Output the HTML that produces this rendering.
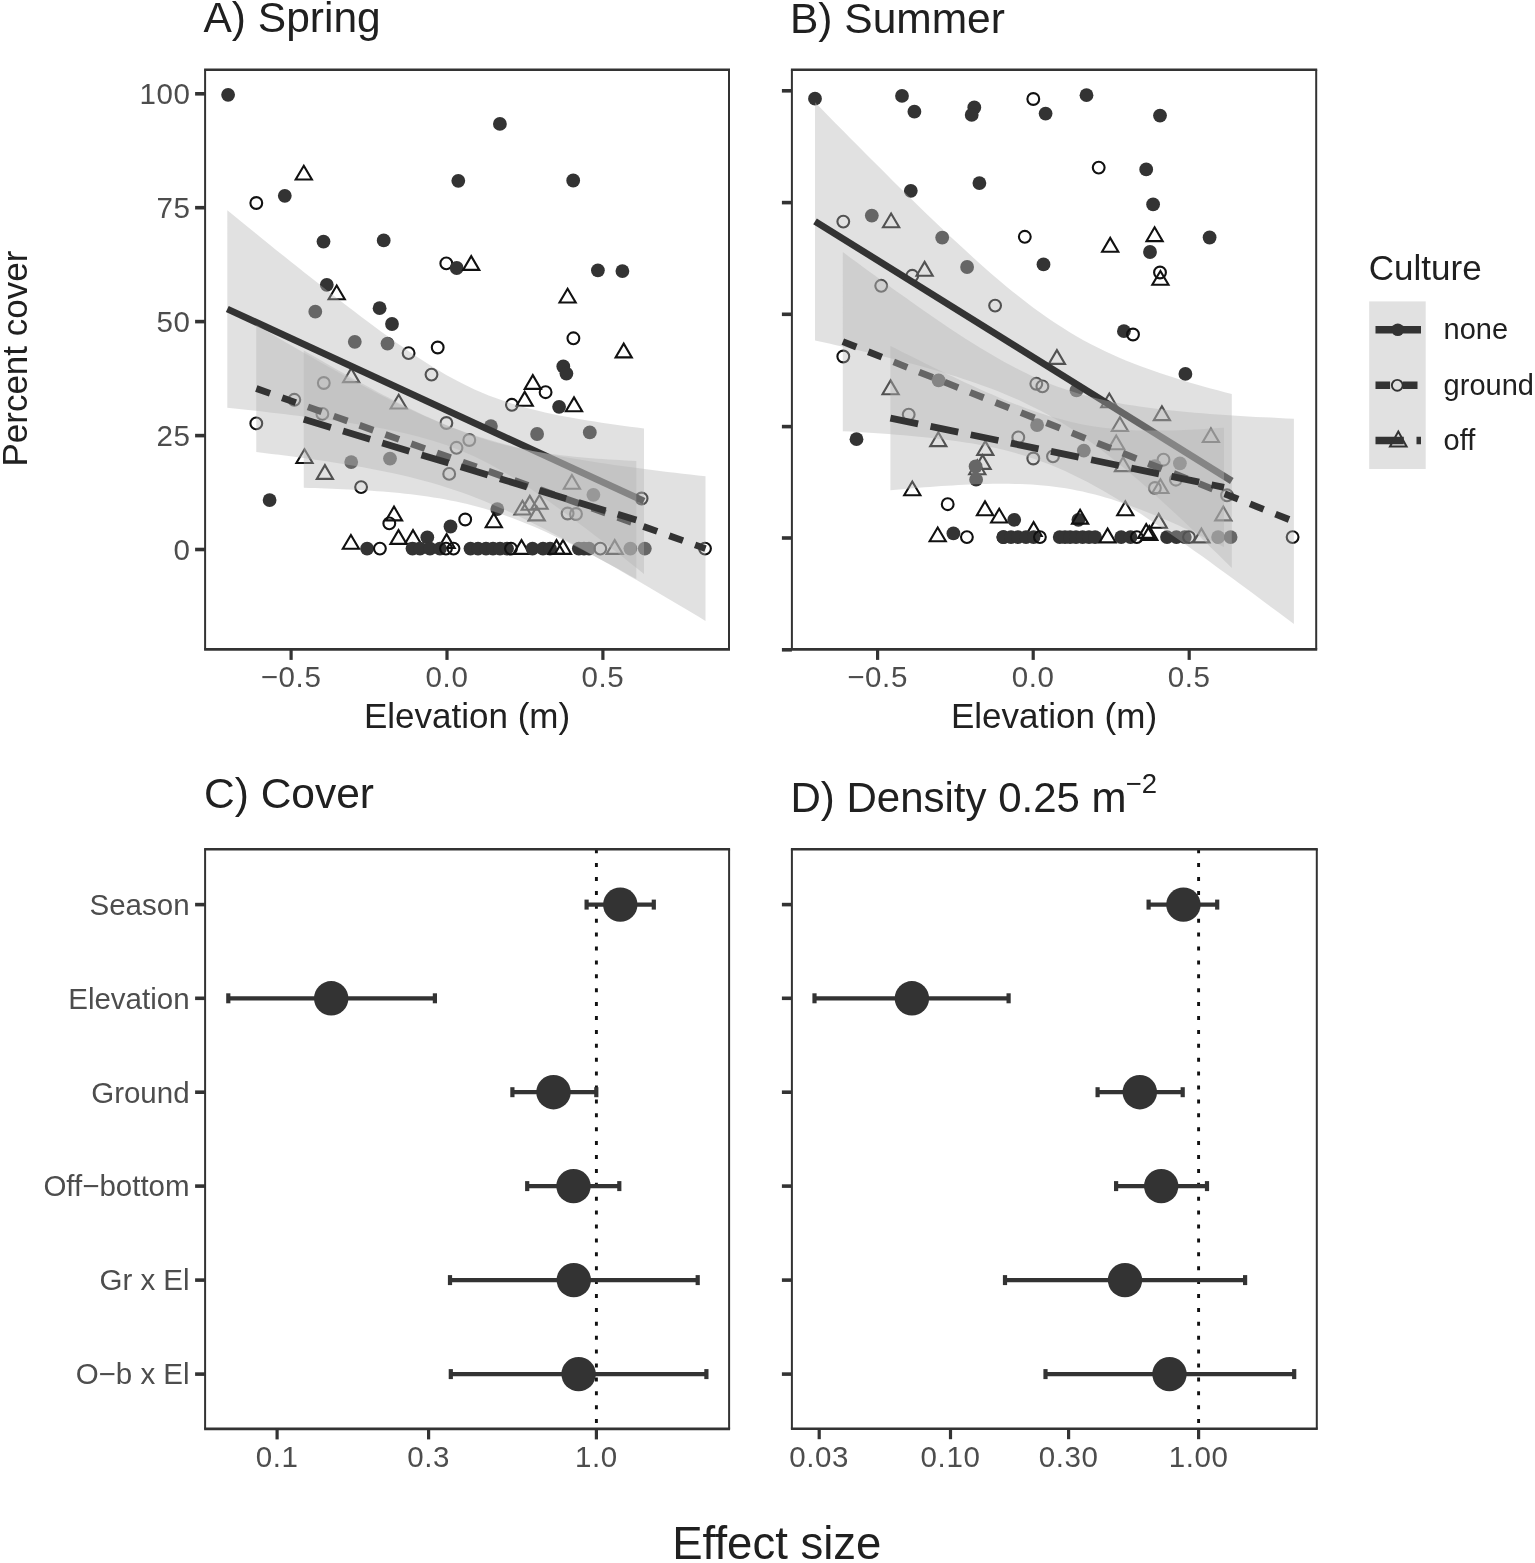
<!DOCTYPE html><html><head><meta charset="utf-8"><title>Figure</title><style>html,body{margin:0;padding:0;background:#fff;width:1535px;height:1563px;overflow:hidden}svg{display:block}</style></head><body><svg width="1535" height="1563" viewBox="0 0 1535 1563" style="font-family:'Liberation Sans',Arial,Helvetica,sans-serif">
<rect width="1535" height="1563" fill="#ffffff"/>
<clipPath id="clipA"><rect x="205.1" y="69.8" width="523.9" height="579.6"/></clipPath>
<g clip-path="url(#clipA)">
<circle cx="228.1" cy="94.8" r="6.9" fill="#333333"/>
<path d="M303.8,165.7 L311.9,179.5 L295.7,179.5Z" fill="none" stroke="#111" stroke-width="2.1" stroke-linejoin="miter"/>
<circle cx="256.3" cy="203.0" r="5.9" fill="none" stroke="#111" stroke-width="2.1"/>
<circle cx="284.8" cy="195.8" r="6.9" fill="#333333"/>
<circle cx="499.9" cy="123.9" r="6.9" fill="#333333"/>
<circle cx="458.3" cy="180.8" r="6.9" fill="#333333"/>
<circle cx="573.2" cy="180.5" r="6.9" fill="#333333"/>
<circle cx="323.5" cy="241.6" r="6.9" fill="#333333"/>
<circle cx="383.7" cy="240.4" r="6.9" fill="#333333"/>
<circle cx="446.3" cy="263.4" r="5.9" fill="none" stroke="#111" stroke-width="2.1"/>
<circle cx="456.7" cy="268.0" r="6.9" fill="#333333"/>
<path d="M471.2,256.1 L479.3,269.9 L463.1,269.9Z" fill="none" stroke="#111" stroke-width="2.1" stroke-linejoin="miter"/>
<circle cx="597.9" cy="270.3" r="6.9" fill="#333333"/>
<circle cx="622.4" cy="271.1" r="6.9" fill="#333333"/>
<circle cx="326.8" cy="284.8" r="6.9" fill="#333333"/>
<path d="M336.7,285.5 L344.8,299.3 L328.6,299.3Z" fill="none" stroke="#111" stroke-width="2.1" stroke-linejoin="miter"/>
<path d="M567.6,288.7 L575.7,302.5 L559.5,302.5Z" fill="none" stroke="#111" stroke-width="2.1" stroke-linejoin="miter"/>
<circle cx="315.3" cy="311.7" r="6.9" fill="#333333"/>
<circle cx="379.6" cy="308.2" r="6.9" fill="#333333"/>
<circle cx="392.0" cy="324.0" r="6.9" fill="#333333"/>
<circle cx="573.4" cy="338.3" r="5.9" fill="none" stroke="#111" stroke-width="2.1"/>
<path d="M623.7,343.6 L631.8,357.4 L615.6,357.4Z" fill="none" stroke="#111" stroke-width="2.1" stroke-linejoin="miter"/>
<circle cx="354.8" cy="341.8" r="6.9" fill="#333333"/>
<circle cx="387.5" cy="343.6" r="6.9" fill="#333333"/>
<circle cx="408.6" cy="353.1" r="5.9" fill="none" stroke="#111" stroke-width="2.1"/>
<circle cx="437.7" cy="347.5" r="5.9" fill="none" stroke="#111" stroke-width="2.1"/>
<circle cx="431.5" cy="374.6" r="5.9" fill="none" stroke="#111" stroke-width="2.1"/>
<circle cx="563.3" cy="366.5" r="6.9" fill="#333333"/>
<circle cx="566.4" cy="373.6" r="6.9" fill="#333333"/>
<path d="M532.8,375.1 L540.9,388.9 L524.7,388.9Z" fill="none" stroke="#111" stroke-width="2.1" stroke-linejoin="miter"/>
<circle cx="545.6" cy="392.2" r="5.9" fill="none" stroke="#111" stroke-width="2.1"/>
<path d="M524.7,391.9 L532.8,405.7 L516.6,405.7Z" fill="none" stroke="#111" stroke-width="2.1" stroke-linejoin="miter"/>
<circle cx="511.9" cy="404.8" r="5.9" fill="none" stroke="#111" stroke-width="2.1"/>
<circle cx="559.1" cy="406.8" r="6.9" fill="#333333"/>
<path d="M574.0,397.4 L582.1,411.2 L565.9,411.2Z" fill="none" stroke="#111" stroke-width="2.1" stroke-linejoin="miter"/>
<path d="M351.2,368.3 L359.3,382.1 L343.1,382.1Z" fill="none" stroke="#111" stroke-width="2.1" stroke-linejoin="miter"/>
<circle cx="323.8" cy="383.0" r="5.9" fill="none" stroke="#111" stroke-width="2.1"/>
<path d="M398.7,394.7 L406.8,408.5 L390.6,408.5Z" fill="none" stroke="#111" stroke-width="2.1" stroke-linejoin="miter"/>
<circle cx="294.3" cy="399.8" r="5.9" fill="none" stroke="#111" stroke-width="2.1"/>
<circle cx="322.4" cy="413.9" r="5.9" fill="none" stroke="#111" stroke-width="2.1"/>
<circle cx="256.3" cy="423.4" r="5.9" fill="none" stroke="#111" stroke-width="2.1"/>
<circle cx="446.4" cy="423.0" r="5.9" fill="none" stroke="#111" stroke-width="2.1"/>
<circle cx="490.9" cy="426.1" r="6.9" fill="#333333"/>
<circle cx="537.1" cy="434.0" r="6.9" fill="#333333"/>
<circle cx="589.8" cy="432.4" r="6.9" fill="#333333"/>
<circle cx="469.3" cy="440.0" r="5.9" fill="none" stroke="#111" stroke-width="2.1"/>
<circle cx="456.5" cy="447.8" r="5.9" fill="none" stroke="#111" stroke-width="2.1"/>
<path d="M304.5,449.2 L312.6,463.0 L296.4,463.0Z" fill="none" stroke="#111" stroke-width="2.1" stroke-linejoin="miter"/>
<circle cx="351.2" cy="462.1" r="6.9" fill="#333333"/>
<circle cx="390.0" cy="458.6" r="6.9" fill="#333333"/>
<path d="M324.9,465.1 L333.0,478.9 L316.8,478.9Z" fill="none" stroke="#111" stroke-width="2.1" stroke-linejoin="miter"/>
<circle cx="449.2" cy="473.9" r="5.9" fill="none" stroke="#111" stroke-width="2.1"/>
<circle cx="361.1" cy="487.1" r="5.9" fill="none" stroke="#111" stroke-width="2.1"/>
<circle cx="269.6" cy="500.1" r="6.9" fill="#333333"/>
<path d="M571.9,475.0 L580.0,488.8 L563.8,488.8Z" fill="none" stroke="#111" stroke-width="2.1" stroke-linejoin="miter"/>
<circle cx="593.4" cy="494.8" r="6.9" fill="#333333"/>
<circle cx="641.6" cy="498.5" r="5.9" fill="none" stroke="#111" stroke-width="2.1"/>
<path d="M522.5,500.7 L530.6,514.5 L514.4,514.5Z" fill="none" stroke="#111" stroke-width="2.1" stroke-linejoin="miter"/>
<path d="M529.8,495.9 L537.9,509.7 L521.7,509.7Z" fill="none" stroke="#111" stroke-width="2.1" stroke-linejoin="miter"/>
<path d="M539.5,495.0 L547.6,508.8 L531.4,508.8Z" fill="none" stroke="#111" stroke-width="2.1" stroke-linejoin="miter"/>
<path d="M536.7,506.6 L544.8,520.4 L528.6,520.4Z" fill="none" stroke="#111" stroke-width="2.1" stroke-linejoin="miter"/>
<circle cx="497.3" cy="509.1" r="6.9" fill="#333333"/>
<circle cx="567.6" cy="513.5" r="5.9" fill="none" stroke="#111" stroke-width="2.1"/>
<circle cx="576.0" cy="514.0" r="5.9" fill="none" stroke="#111" stroke-width="2.1"/>
<path d="M394.0,506.6 L402.1,520.4 L385.9,520.4Z" fill="none" stroke="#111" stroke-width="2.1" stroke-linejoin="miter"/>
<circle cx="389.3" cy="523.4" r="5.9" fill="none" stroke="#111" stroke-width="2.1"/>
<circle cx="465.2" cy="519.5" r="5.9" fill="none" stroke="#111" stroke-width="2.1"/>
<path d="M493.8,513.4 L501.9,527.2 L485.7,527.2Z" fill="none" stroke="#111" stroke-width="2.1" stroke-linejoin="miter"/>
<circle cx="450.5" cy="526.5" r="6.9" fill="#333333"/>
<path d="M398.5,530.1 L406.6,543.9 L390.4,543.9Z" fill="none" stroke="#111" stroke-width="2.1" stroke-linejoin="miter"/>
<path d="M413.0,530.1 L421.1,543.9 L404.9,543.9Z" fill="none" stroke="#111" stroke-width="2.1" stroke-linejoin="miter"/>
<circle cx="427.3" cy="537.3" r="6.9" fill="#333333"/>
<path d="M446.6,534.1 L454.7,547.9 L438.5,547.9Z" fill="none" stroke="#111" stroke-width="2.1" stroke-linejoin="miter"/>
<path d="M350.9,535.0 L359.0,548.8 L342.8,548.8Z" fill="none" stroke="#111" stroke-width="2.1" stroke-linejoin="miter"/>
<circle cx="367.1" cy="548.6" r="6.9" fill="#333333"/>
<circle cx="379.9" cy="548.6" r="5.9" fill="none" stroke="#111" stroke-width="2.1"/>
<circle cx="412.5" cy="548.6" r="6.9" fill="#333333"/>
<circle cx="420.0" cy="548.6" r="6.9" fill="#333333"/>
<circle cx="430.0" cy="548.6" r="6.9" fill="#333333"/>
<circle cx="440.0" cy="548.6" r="6.9" fill="#333333"/>
<circle cx="446.0" cy="548.6" r="5.9" fill="none" stroke="#111" stroke-width="2.1"/>
<circle cx="453.5" cy="548.6" r="5.9" fill="none" stroke="#111" stroke-width="2.1"/>
<circle cx="470.5" cy="548.6" r="6.9" fill="#333333"/>
<circle cx="478.0" cy="548.6" r="6.9" fill="#333333"/>
<circle cx="486.0" cy="548.6" r="6.9" fill="#333333"/>
<circle cx="493.0" cy="548.6" r="6.9" fill="#333333"/>
<circle cx="500.0" cy="548.6" r="6.9" fill="#333333"/>
<circle cx="507.0" cy="548.6" r="6.9" fill="#333333"/>
<circle cx="511.0" cy="548.6" r="5.9" fill="none" stroke="#111" stroke-width="2.1"/>
<path d="M521.5,540.1 L529.6,553.9 L513.4,553.9Z" fill="none" stroke="#111" stroke-width="2.1" stroke-linejoin="miter"/>
<circle cx="532.5" cy="548.6" r="6.9" fill="#333333"/>
<circle cx="543.0" cy="548.6" r="6.9" fill="#333333"/>
<circle cx="550.0" cy="548.6" r="6.9" fill="#333333"/>
<path d="M556.5,540.1 L564.6,553.9 L548.4,553.9Z" fill="none" stroke="#111" stroke-width="2.1" stroke-linejoin="miter"/>
<path d="M563.0,540.1 L571.1,553.9 L554.9,553.9Z" fill="none" stroke="#111" stroke-width="2.1" stroke-linejoin="miter"/>
<circle cx="578.8" cy="548.6" r="6.9" fill="#333333"/>
<circle cx="584.0" cy="548.6" r="6.9" fill="#333333"/>
<circle cx="589.0" cy="548.6" r="6.9" fill="#333333"/>
<circle cx="600.3" cy="548.6" r="5.9" fill="none" stroke="#111" stroke-width="2.1"/>
<path d="M614.7,540.1 L622.8,553.9 L606.6,553.9Z" fill="none" stroke="#111" stroke-width="2.1" stroke-linejoin="miter"/>
<circle cx="630.4" cy="548.6" r="6.9" fill="#333333"/>
<circle cx="644.8" cy="548.6" r="6.9" fill="#333333"/>
<circle cx="705.0" cy="548.6" r="5.9" fill="none" stroke="#111" stroke-width="2.1"/>
<path d="M227.3,210.3 L234.4,216.0 L241.4,221.8 L248.5,227.5 L255.6,233.2 L262.6,239.0 L269.7,244.7 L276.7,250.4 L283.8,256.0 L290.9,261.7 L297.9,267.3 L305.0,273.0 L312.1,278.6 L319.1,284.1 L326.2,289.7 L333.2,295.2 L340.3,300.7 L347.4,306.2 L354.4,311.6 L361.5,316.9 L368.6,322.3 L375.6,327.5 L382.7,332.7 L389.7,337.8 L396.8,342.9 L403.9,347.8 L410.9,352.7 L418.0,357.4 L425.1,362.0 L432.1,366.4 L439.2,370.7 L446.2,374.9 L453.3,378.8 L460.4,382.5 L467.4,386.1 L474.5,389.4 L481.6,392.5 L488.6,395.4 L495.7,398.1 L502.7,400.6 L509.8,403.0 L516.9,405.1 L523.9,407.2 L531.0,409.0 L538.1,410.8 L545.1,412.4 L552.2,413.9 L559.2,415.4 L566.3,416.8 L573.4,418.1 L580.4,419.3 L587.5,420.5 L594.6,421.6 L601.6,422.7 L608.7,423.8 L615.7,424.8 L622.8,425.7 L629.9,426.7 L636.9,427.6 L644.0,428.5 L644.0,573.9 L636.9,568.3 L629.9,562.7 L622.8,557.1 L615.7,551.6 L608.7,546.1 L601.6,540.6 L594.6,535.2 L587.5,529.8 L580.4,524.5 L573.4,519.2 L566.3,514.0 L559.2,508.8 L552.2,503.8 L545.1,498.8 L538.1,493.9 L531.0,489.1 L523.9,484.5 L516.9,480.0 L509.8,475.6 L502.7,471.5 L495.7,467.5 L488.6,463.6 L481.6,460.0 L474.5,456.6 L467.4,453.4 L460.4,450.5 L453.3,447.7 L446.2,445.1 L439.2,442.7 L432.1,440.5 L425.1,438.4 L418.0,436.5 L410.9,434.7 L403.9,433.1 L396.8,431.5 L389.7,430.0 L382.7,428.6 L375.6,427.3 L368.6,426.0 L361.5,424.8 L354.4,423.7 L347.4,422.6 L340.3,421.5 L333.2,420.5 L326.2,419.5 L319.1,418.6 L312.1,417.6 L305.0,416.7 L297.9,415.8 L290.9,414.9 L283.8,414.1 L276.7,413.2 L269.7,412.4 L262.6,411.6 L255.6,410.8 L248.5,410.0 L241.4,409.3 L234.4,408.5 L227.3,407.7Z" fill="#b3b3b3" fill-opacity="0.4"/>
<path d="M227.3,309.0 L644.0,501.2" stroke="#333333" stroke-width="6.8" fill="none"/>
<path d="M256.3,325.0 L263.9,329.5 L271.5,334.0 L279.1,338.5 L286.8,342.9 L294.4,347.3 L302.0,351.7 L309.6,356.1 L317.2,360.4 L324.8,364.7 L332.4,369.0 L340.0,373.3 L347.7,377.4 L355.3,381.6 L362.9,385.7 L370.5,389.7 L378.1,393.7 L385.7,397.6 L393.3,401.4 L401.0,405.1 L408.6,408.8 L416.2,412.3 L423.8,415.7 L431.4,419.0 L439.0,422.2 L446.6,425.3 L454.3,428.2 L461.9,431.0 L469.5,433.7 L477.1,436.2 L484.7,438.6 L492.3,440.8 L499.9,443.0 L507.5,445.0 L515.2,446.9 L522.8,448.7 L530.4,450.4 L538.0,452.0 L545.6,453.6 L553.2,455.1 L560.8,456.5 L568.5,457.8 L576.1,459.1 L583.7,460.3 L591.3,461.6 L598.9,462.7 L606.5,463.8 L614.1,464.9 L621.8,466.0 L629.4,467.0 L637.0,468.0 L644.6,469.0 L652.2,470.0 L659.8,470.9 L667.4,471.9 L675.0,472.8 L682.7,473.7 L690.3,474.6 L697.9,475.4 L705.5,476.3 L705.5,620.9 L697.9,616.3 L690.3,611.8 L682.7,607.2 L675.0,602.7 L667.4,598.2 L659.8,593.7 L652.2,589.2 L644.6,584.8 L637.0,580.3 L629.4,575.9 L621.8,571.5 L614.1,567.1 L606.5,562.8 L598.9,558.5 L591.3,554.2 L583.7,550.0 L576.1,545.8 L568.5,541.7 L560.8,537.6 L553.2,533.6 L545.6,529.6 L538.0,525.8 L530.4,522.0 L522.8,518.2 L515.2,514.6 L507.5,511.1 L499.9,507.7 L492.3,504.4 L484.7,501.2 L477.1,498.2 L469.5,495.3 L461.9,492.5 L454.3,489.9 L446.6,487.4 L439.0,485.0 L431.4,482.8 L423.8,480.7 L416.2,478.7 L408.6,476.8 L401.0,475.0 L393.3,473.3 L385.7,471.7 L378.1,470.2 L370.5,468.7 L362.9,467.3 L355.3,466.0 L347.7,464.7 L340.0,463.4 L332.4,462.3 L324.8,461.1 L317.2,460.0 L309.6,458.9 L302.0,457.8 L294.4,456.8 L286.8,455.8 L279.1,454.8 L271.5,453.9 L263.9,452.9 L256.3,452.0Z" fill="#b3b3b3" fill-opacity="0.4"/>
<path d="M256.3,388.5 L705.5,548.6" stroke="#333333" stroke-width="6.8" fill="none" stroke-dasharray="14.6,12.8"/>
<path d="M303.8,350.6 L309.4,353.8 L315.1,357.1 L320.7,360.3 L326.3,363.6 L332.0,366.8 L337.6,370.0 L343.2,373.1 L348.9,376.3 L354.5,379.4 L360.2,382.5 L365.8,385.6 L371.4,388.6 L377.1,391.7 L382.7,394.7 L388.3,397.6 L394.0,400.5 L399.6,403.4 L405.2,406.2 L410.9,409.0 L416.5,411.8 L422.1,414.4 L427.8,417.1 L433.4,419.6 L439.1,422.1 L444.7,424.5 L450.3,426.9 L456.0,429.1 L461.6,431.3 L467.2,433.4 L472.9,435.4 L478.5,437.3 L484.1,439.1 L489.8,440.9 L495.4,442.5 L501.0,444.0 L506.7,445.5 L512.3,446.8 L518.0,448.1 L523.6,449.2 L529.2,450.3 L534.9,451.4 L540.5,452.3 L546.1,453.2 L551.8,454.0 L557.4,454.8 L563.0,455.5 L568.7,456.1 L574.3,456.7 L579.9,457.2 L585.6,457.8 L591.2,458.2 L596.9,458.7 L602.5,459.1 L608.1,459.4 L613.8,459.8 L619.4,460.1 L625.0,460.4 L630.7,460.7 L636.3,460.9 L636.3,579.1 L630.7,575.9 L625.0,572.8 L619.4,569.6 L613.8,566.5 L608.1,563.5 L602.5,560.4 L596.9,557.4 L591.2,554.4 L585.6,551.5 L579.9,548.6 L574.3,545.7 L568.7,542.9 L563.0,540.1 L557.4,537.4 L551.8,534.7 L546.1,532.1 L540.5,529.6 L534.9,527.1 L529.2,524.7 L523.6,522.4 L518.0,520.2 L512.3,518.0 L506.7,516.0 L501.0,514.0 L495.4,512.1 L489.8,510.3 L484.1,508.6 L478.5,507.0 L472.9,505.5 L467.2,504.1 L461.6,502.8 L456.0,501.5 L450.3,500.4 L444.7,499.3 L439.1,498.3 L433.4,497.4 L427.8,496.5 L422.1,495.7 L416.5,495.0 L410.9,494.3 L405.2,493.7 L399.6,493.1 L394.0,492.5 L388.3,492.0 L382.7,491.6 L377.1,491.2 L371.4,490.8 L365.8,490.4 L360.2,490.1 L354.5,489.7 L348.9,489.5 L343.2,489.2 L337.6,488.9 L332.0,488.7 L326.3,488.5 L320.7,488.3 L315.1,488.1 L309.4,488.0 L303.8,487.8Z" fill="#b3b3b3" fill-opacity="0.4"/>
<path d="M303.8,419.2 L636.3,520.0" stroke="#333333" stroke-width="6.8" fill="none" stroke-dasharray="28.3,12.7"/>
</g>
<line x1="204.10" y1="69.80" x2="730.00" y2="69.80" stroke="#333333" stroke-width="2.6" />
<line x1="204.10" y1="649.40" x2="730.00" y2="649.40" stroke="#333333" stroke-width="2.6" />
<line x1="205.10" y1="69.80" x2="205.10" y2="649.40" stroke="#333333" stroke-width="2.0" />
<line x1="729.00" y1="69.80" x2="729.00" y2="649.40" stroke="#333333" stroke-width="2.0" />
<line x1="195.10" y1="549.50" x2="205.10" y2="549.50" stroke="#333333" stroke-width="3.6" />
<text x="190.5" y="559.8" font-size="29.5" fill="#4d4d4d" text-anchor="end" letter-spacing="0.6">0</text>
<line x1="195.10" y1="435.60" x2="205.10" y2="435.60" stroke="#333333" stroke-width="3.6" />
<text x="190.5" y="445.9" font-size="29.5" fill="#4d4d4d" text-anchor="end" letter-spacing="0.6">25</text>
<line x1="195.10" y1="321.60" x2="205.10" y2="321.60" stroke="#333333" stroke-width="3.6" />
<text x="190.5" y="331.9" font-size="29.5" fill="#4d4d4d" text-anchor="end" letter-spacing="0.6">50</text>
<line x1="195.10" y1="207.70" x2="205.10" y2="207.70" stroke="#333333" stroke-width="3.6" />
<text x="190.5" y="218.0" font-size="29.5" fill="#4d4d4d" text-anchor="end" letter-spacing="0.6">75</text>
<line x1="195.10" y1="93.80" x2="205.10" y2="93.80" stroke="#333333" stroke-width="3.6" />
<text x="190.5" y="104.1" font-size="29.5" fill="#4d4d4d" text-anchor="end" letter-spacing="0.6">100</text>
<line x1="291.10" y1="649.40" x2="291.10" y2="659.90" stroke="#333333" stroke-width="3.2" />
<text x="291.1" y="687.0" font-size="29.5" fill="#4d4d4d" text-anchor="middle" letter-spacing="0.6">&#8722;0.5</text>
<line x1="447.00" y1="649.40" x2="447.00" y2="659.90" stroke="#333333" stroke-width="3.2" />
<text x="447.0" y="687.0" font-size="29.5" fill="#4d4d4d" text-anchor="middle" letter-spacing="0.6">0.0</text>
<line x1="602.90" y1="649.40" x2="602.90" y2="659.90" stroke="#333333" stroke-width="3.2" />
<text x="602.9" y="687.0" font-size="29.5" fill="#4d4d4d" text-anchor="middle" letter-spacing="0.6">0.5</text>
<text x="467.1" y="727.8" font-size="35" fill="#202020" text-anchor="middle" >Elevation (m)</text>
<clipPath id="clipB"><rect x="791.9" y="69.8" width="524.3000000000001" height="579.6"/></clipPath>
<g clip-path="url(#clipB)">
<circle cx="815.0" cy="98.7" r="6.9" fill="#333333"/>
<circle cx="902.0" cy="95.9" r="6.9" fill="#333333"/>
<circle cx="914.4" cy="111.7" r="6.9" fill="#333333"/>
<circle cx="974.3" cy="107.5" r="6.9" fill="#333333"/>
<circle cx="971.7" cy="114.9" r="6.9" fill="#333333"/>
<circle cx="1033.3" cy="99.0" r="5.9" fill="none" stroke="#111" stroke-width="2.1"/>
<circle cx="1045.6" cy="113.6" r="6.9" fill="#333333"/>
<circle cx="1086.5" cy="95.2" r="6.9" fill="#333333"/>
<circle cx="1160.0" cy="115.6" r="6.9" fill="#333333"/>
<circle cx="910.8" cy="190.8" r="6.9" fill="#333333"/>
<circle cx="979.4" cy="183.1" r="6.9" fill="#333333"/>
<circle cx="1098.7" cy="167.6" r="5.9" fill="none" stroke="#111" stroke-width="2.1"/>
<circle cx="1146.2" cy="169.4" r="6.9" fill="#333333"/>
<circle cx="1153.1" cy="204.4" r="6.9" fill="#333333"/>
<circle cx="843.3" cy="221.6" r="5.9" fill="none" stroke="#111" stroke-width="2.1"/>
<circle cx="871.8" cy="215.6" r="6.9" fill="#333333"/>
<path d="M891.1,213.5 L899.2,227.3 L883.0,227.3Z" fill="none" stroke="#111" stroke-width="2.1" stroke-linejoin="miter"/>
<circle cx="942.2" cy="237.6" r="6.9" fill="#333333"/>
<circle cx="1024.8" cy="236.8" r="5.9" fill="none" stroke="#111" stroke-width="2.1"/>
<path d="M1154.6,227.3 L1162.7,241.1 L1146.5,241.1Z" fill="none" stroke="#111" stroke-width="2.1" stroke-linejoin="miter"/>
<path d="M1110.2,237.9 L1118.3,251.7 L1102.1,251.7Z" fill="none" stroke="#111" stroke-width="2.1" stroke-linejoin="miter"/>
<circle cx="1209.6" cy="237.5" r="6.9" fill="#333333"/>
<circle cx="1150.0" cy="252.0" r="6.9" fill="#333333"/>
<circle cx="1160.0" cy="272.5" r="5.9" fill="none" stroke="#111" stroke-width="2.1"/>
<path d="M1160.4,271.0 L1168.5,284.8 L1152.3,284.8Z" fill="none" stroke="#111" stroke-width="2.1" stroke-linejoin="miter"/>
<circle cx="1043.5" cy="264.4" r="6.9" fill="#333333"/>
<path d="M924.6,261.9 L932.7,275.7 L916.5,275.7Z" fill="none" stroke="#111" stroke-width="2.1" stroke-linejoin="miter"/>
<circle cx="967.1" cy="267.0" r="6.9" fill="#333333"/>
<circle cx="912.3" cy="275.8" r="5.9" fill="none" stroke="#111" stroke-width="2.1"/>
<circle cx="881.2" cy="285.8" r="5.9" fill="none" stroke="#111" stroke-width="2.1"/>
<circle cx="995.1" cy="305.6" r="5.9" fill="none" stroke="#111" stroke-width="2.1"/>
<circle cx="1123.9" cy="331.2" r="6.9" fill="#333333"/>
<circle cx="1133.0" cy="334.5" r="5.9" fill="none" stroke="#111" stroke-width="2.1"/>
<circle cx="843.3" cy="356.5" r="5.9" fill="none" stroke="#111" stroke-width="2.1"/>
<path d="M1056.9,350.1 L1065.0,363.9 L1048.8,363.9Z" fill="none" stroke="#111" stroke-width="2.1" stroke-linejoin="miter"/>
<circle cx="1185.4" cy="373.9" r="6.9" fill="#333333"/>
<path d="M890.6,380.4 L898.7,394.2 L882.5,394.2Z" fill="none" stroke="#111" stroke-width="2.1" stroke-linejoin="miter"/>
<circle cx="938.6" cy="380.3" r="6.9" fill="#333333"/>
<circle cx="1036.3" cy="383.8" r="5.9" fill="none" stroke="#111" stroke-width="2.1"/>
<circle cx="1042.4" cy="386.4" r="5.9" fill="none" stroke="#111" stroke-width="2.1"/>
<circle cx="1076.5" cy="390.4" r="6.9" fill="#333333"/>
<path d="M1109.3,393.5 L1117.4,407.3 L1101.2,407.3Z" fill="none" stroke="#111" stroke-width="2.1" stroke-linejoin="miter"/>
<path d="M1161.9,406.3 L1170.0,420.1 L1153.8,420.1Z" fill="none" stroke="#111" stroke-width="2.1" stroke-linejoin="miter"/>
<circle cx="908.7" cy="414.6" r="5.9" fill="none" stroke="#111" stroke-width="2.1"/>
<circle cx="1037.1" cy="425.1" r="6.9" fill="#333333"/>
<path d="M1119.9,417.2 L1128.0,431.0 L1111.8,431.0Z" fill="none" stroke="#111" stroke-width="2.1" stroke-linejoin="miter"/>
<path d="M1210.9,428.2 L1219.0,442.0 L1202.8,442.0Z" fill="none" stroke="#111" stroke-width="2.1" stroke-linejoin="miter"/>
<circle cx="856.5" cy="439.2" r="6.9" fill="#333333"/>
<path d="M938.3,432.3 L946.4,446.1 L930.2,446.1Z" fill="none" stroke="#111" stroke-width="2.1" stroke-linejoin="miter"/>
<circle cx="1018.3" cy="437.4" r="5.9" fill="none" stroke="#111" stroke-width="2.1"/>
<path d="M1116.2,435.5 L1124.3,449.3 L1108.1,449.3Z" fill="none" stroke="#111" stroke-width="2.1" stroke-linejoin="miter"/>
<circle cx="1083.8" cy="450.6" r="6.9" fill="#333333"/>
<path d="M985.3,441.1 L993.4,454.9 L977.2,454.9Z" fill="none" stroke="#111" stroke-width="2.1" stroke-linejoin="miter"/>
<path d="M982.6,455.1 L990.7,468.9 L974.5,468.9Z" fill="none" stroke="#111" stroke-width="2.1" stroke-linejoin="miter"/>
<path d="M977.3,460.4 L985.4,474.2 L969.2,474.2Z" fill="none" stroke="#111" stroke-width="2.1" stroke-linejoin="miter"/>
<circle cx="975.6" cy="466.5" r="6.9" fill="#333333"/>
<circle cx="976.1" cy="479.7" r="6.9" fill="#333333"/>
<circle cx="1033.3" cy="458.5" r="5.9" fill="none" stroke="#111" stroke-width="2.1"/>
<circle cx="1053.0" cy="456.4" r="5.9" fill="none" stroke="#111" stroke-width="2.1"/>
<path d="M1123.0,457.3 L1131.1,471.1 L1114.9,471.1Z" fill="none" stroke="#111" stroke-width="2.1" stroke-linejoin="miter"/>
<circle cx="1163.5" cy="459.7" r="5.9" fill="none" stroke="#111" stroke-width="2.1"/>
<circle cx="1179.9" cy="463.3" r="6.9" fill="#333333"/>
<circle cx="1154.9" cy="466.1" r="6.9" fill="#333333"/>
<circle cx="1154.9" cy="488.0" r="5.9" fill="none" stroke="#111" stroke-width="2.1"/>
<path d="M1160.4,479.2 L1168.5,493.0 L1152.3,493.0Z" fill="none" stroke="#111" stroke-width="2.1" stroke-linejoin="miter"/>
<circle cx="1175.9" cy="479.7" r="5.9" fill="none" stroke="#111" stroke-width="2.1"/>
<circle cx="1227.0" cy="495.3" r="5.9" fill="none" stroke="#111" stroke-width="2.1"/>
<path d="M912.3,481.5 L920.4,495.3 L904.2,495.3Z" fill="none" stroke="#111" stroke-width="2.1" stroke-linejoin="miter"/>
<circle cx="947.7" cy="504.2" r="5.9" fill="none" stroke="#111" stroke-width="2.1"/>
<path d="M985.0,501.4 L993.1,515.2 L976.9,515.2Z" fill="none" stroke="#111" stroke-width="2.1" stroke-linejoin="miter"/>
<path d="M999.2,508.7 L1007.3,522.5 L991.1,522.5Z" fill="none" stroke="#111" stroke-width="2.1" stroke-linejoin="miter"/>
<circle cx="1014.2" cy="519.8" r="6.9" fill="#333333"/>
<circle cx="1078.4" cy="519.8" r="6.9" fill="#333333"/>
<path d="M1080.1,509.8 L1088.2,523.6 L1072.0,523.6Z" fill="none" stroke="#111" stroke-width="2.1" stroke-linejoin="miter"/>
<path d="M1125.3,501.4 L1133.4,515.2 L1117.2,515.2Z" fill="none" stroke="#111" stroke-width="2.1" stroke-linejoin="miter"/>
<path d="M1158.7,513.9 L1166.8,527.7 L1150.6,527.7Z" fill="none" stroke="#111" stroke-width="2.1" stroke-linejoin="miter"/>
<path d="M1223.3,506.6 L1231.4,520.4 L1215.2,520.4Z" fill="none" stroke="#111" stroke-width="2.1" stroke-linejoin="miter"/>
<path d="M1033.6,522.1 L1041.7,535.9 L1025.5,535.9Z" fill="none" stroke="#111" stroke-width="2.1" stroke-linejoin="miter"/>
<path d="M1146.2,524.1 L1154.3,537.9 L1138.1,537.9Z" fill="none" stroke="#111" stroke-width="2.1" stroke-linejoin="miter"/>
<path d="M1149.3,526.1 L1157.4,539.9 L1141.2,539.9Z" fill="none" stroke="#111" stroke-width="2.1" stroke-linejoin="miter"/>
<path d="M937.7,527.5 L945.8,541.3 L929.6,541.3Z" fill="none" stroke="#111" stroke-width="2.1" stroke-linejoin="miter"/>
<circle cx="953.4" cy="533.4" r="6.9" fill="#333333"/>
<circle cx="966.9" cy="537.1" r="5.9" fill="none" stroke="#111" stroke-width="2.1"/>
<circle cx="1003.4" cy="537.1" r="5.9" fill="none" stroke="#111" stroke-width="2.1"/>
<circle cx="1003.4" cy="537.1" r="6.9" fill="#333333"/>
<circle cx="1011.0" cy="537.1" r="6.9" fill="#333333"/>
<circle cx="1018.0" cy="537.1" r="6.9" fill="#333333"/>
<circle cx="1026.0" cy="537.1" r="6.9" fill="#333333"/>
<circle cx="1033.6" cy="537.1" r="6.9" fill="#333333"/>
<circle cx="1039.9" cy="537.1" r="5.9" fill="none" stroke="#111" stroke-width="2.1"/>
<circle cx="1059.7" cy="537.1" r="6.9" fill="#333333"/>
<circle cx="1065.0" cy="537.1" r="6.9" fill="#333333"/>
<circle cx="1070.1" cy="537.1" r="6.9" fill="#333333"/>
<circle cx="1076.0" cy="537.1" r="6.9" fill="#333333"/>
<circle cx="1082.6" cy="537.1" r="6.9" fill="#333333"/>
<circle cx="1089.0" cy="537.1" r="6.9" fill="#333333"/>
<circle cx="1095.1" cy="537.1" r="6.9" fill="#333333"/>
<path d="M1107.6,528.6 L1115.7,542.4 L1099.5,542.4Z" fill="none" stroke="#111" stroke-width="2.1" stroke-linejoin="miter"/>
<circle cx="1121.2" cy="537.1" r="6.9" fill="#333333"/>
<circle cx="1130.5" cy="537.1" r="6.9" fill="#333333"/>
<circle cx="1136.8" cy="537.1" r="5.9" fill="none" stroke="#111" stroke-width="2.1"/>
<circle cx="1167.0" cy="537.1" r="6.9" fill="#333333"/>
<circle cx="1176.4" cy="537.1" r="6.9" fill="#333333"/>
<circle cx="1184.8" cy="537.1" r="6.9" fill="#333333"/>
<circle cx="1189.0" cy="537.1" r="5.9" fill="none" stroke="#111" stroke-width="2.1"/>
<path d="M1201.4,528.6 L1209.5,542.4 L1193.3,542.4Z" fill="none" stroke="#111" stroke-width="2.1" stroke-linejoin="miter"/>
<circle cx="1218.1" cy="537.1" r="6.9" fill="#333333"/>
<circle cx="1230.6" cy="537.1" r="6.9" fill="#333333"/>
<circle cx="1292.6" cy="537.1" r="5.9" fill="none" stroke="#111" stroke-width="2.1"/>
<path d="M815.0,102.2 L822.1,109.5 L829.1,116.7 L836.2,123.9 L843.3,131.0 L850.3,138.2 L857.4,145.3 L864.5,152.4 L871.5,159.5 L878.6,166.6 L885.6,173.6 L892.7,180.7 L899.8,187.7 L906.8,194.6 L913.9,201.5 L921.0,208.4 L928.0,215.2 L935.1,222.0 L942.2,228.8 L949.2,235.4 L956.3,242.0 L963.4,248.6 L970.4,255.0 L977.5,261.4 L984.5,267.7 L991.6,273.9 L998.7,279.9 L1005.7,285.9 L1012.8,291.7 L1019.9,297.3 L1026.9,302.8 L1034.0,308.2 L1041.1,313.3 L1048.1,318.3 L1055.2,323.1 L1062.3,327.6 L1069.3,332.0 L1076.4,336.2 L1083.4,340.2 L1090.5,344.0 L1097.6,347.6 L1104.6,351.0 L1111.7,354.3 L1118.8,357.4 L1125.8,360.4 L1132.9,363.3 L1140.0,366.0 L1147.0,368.6 L1154.1,371.1 L1161.2,373.5 L1168.2,375.8 L1175.3,378.1 L1182.3,380.3 L1189.4,382.4 L1196.5,384.4 L1203.5,386.5 L1210.6,388.4 L1217.7,390.3 L1224.7,392.2 L1231.8,394.1 L1231.8,567.9 L1224.7,561.0 L1217.7,554.1 L1210.6,547.2 L1203.5,540.3 L1196.5,533.5 L1189.4,526.8 L1182.3,520.1 L1175.3,513.5 L1168.2,506.9 L1161.2,500.5 L1154.1,494.1 L1147.0,487.8 L1140.0,481.6 L1132.9,475.5 L1125.8,469.5 L1118.8,463.7 L1111.7,458.0 L1104.6,452.5 L1097.6,447.1 L1090.5,441.9 L1083.4,436.9 L1076.4,432.1 L1069.3,427.5 L1062.3,423.1 L1055.2,418.9 L1048.1,414.8 L1041.1,411.0 L1034.0,407.4 L1026.9,403.9 L1019.9,400.6 L1012.8,397.4 L1005.7,394.4 L998.7,391.6 L991.6,388.8 L984.5,386.2 L977.5,383.7 L970.4,381.2 L963.4,378.9 L956.3,376.6 L949.2,374.4 L942.2,372.3 L935.1,370.2 L928.0,368.2 L921.0,366.2 L913.9,364.3 L906.8,362.4 L899.8,360.6 L892.7,358.8 L885.6,357.0 L878.6,355.2 L871.5,353.5 L864.5,351.8 L857.4,350.1 L850.3,348.4 L843.3,346.8 L836.2,345.2 L829.1,343.5 L822.1,341.9 L815.0,340.4Z" fill="#b3b3b3" fill-opacity="0.4"/>
<path d="M815.0,221.3 L1231.8,481.0" stroke="#333333" stroke-width="6.8" fill="none"/>
<path d="M842.8,252.0 L850.4,257.7 L858.1,263.3 L865.7,269.0 L873.4,274.6 L881.0,280.1 L888.7,285.7 L896.3,291.2 L904.0,296.6 L911.6,302.1 L919.3,307.4 L926.9,312.8 L934.5,318.0 L942.2,323.2 L949.8,328.4 L957.5,333.4 L965.1,338.4 L972.8,343.2 L980.4,347.9 L988.1,352.6 L995.7,357.0 L1003.4,361.4 L1011.0,365.5 L1018.7,369.5 L1026.3,373.3 L1033.9,376.9 L1041.6,380.3 L1049.2,383.4 L1056.9,386.4 L1064.5,389.1 L1072.2,391.6 L1079.8,394.0 L1087.5,396.1 L1095.1,398.1 L1102.8,399.8 L1110.4,401.5 L1118.0,403.0 L1125.7,404.4 L1133.3,405.6 L1141.0,406.8 L1148.6,407.8 L1156.3,408.8 L1163.9,409.7 L1171.6,410.5 L1179.2,411.3 L1186.9,412.0 L1194.5,412.7 L1202.2,413.3 L1209.8,413.9 L1217.4,414.5 L1225.1,415.0 L1232.7,415.5 L1240.4,416.0 L1248.0,416.4 L1255.7,416.9 L1263.3,417.3 L1271.0,417.6 L1278.6,418.0 L1286.3,418.4 L1293.9,418.7 L1293.9,624.1 L1286.3,618.3 L1278.6,612.6 L1271.0,606.9 L1263.3,601.2 L1255.7,595.5 L1248.0,589.8 L1240.4,584.2 L1232.7,578.5 L1225.1,572.9 L1217.4,567.4 L1209.8,561.8 L1202.2,556.3 L1194.5,550.9 L1186.9,545.4 L1179.2,540.1 L1171.6,534.7 L1163.9,529.5 L1156.3,524.3 L1148.6,519.2 L1141.0,514.1 L1133.3,509.2 L1125.7,504.4 L1118.0,499.6 L1110.4,495.0 L1102.8,490.6 L1095.1,486.3 L1087.5,482.1 L1079.8,478.2 L1072.2,474.4 L1064.5,470.8 L1056.9,467.5 L1049.2,464.3 L1041.6,461.4 L1033.9,458.7 L1026.3,456.2 L1018.7,453.9 L1011.0,451.8 L1003.4,449.8 L995.7,448.1 L988.1,446.4 L980.4,445.0 L972.8,443.6 L965.1,442.4 L957.5,441.2 L949.8,440.2 L942.2,439.2 L934.5,438.3 L926.9,437.5 L919.3,436.7 L911.6,436.0 L904.0,435.3 L896.3,434.7 L888.7,434.1 L881.0,433.5 L873.4,433.0 L865.7,432.5 L858.1,432.1 L850.4,431.6 L842.8,431.2Z" fill="#b3b3b3" fill-opacity="0.4"/>
<path d="M842.8,341.6 L1293.9,521.4" stroke="#333333" stroke-width="6.8" fill="none" stroke-dasharray="14.6,12.8"/>
<path d="M890.4,345.9 L896.1,348.8 L901.7,351.7 L907.4,354.5 L913.0,357.3 L918.7,360.1 L924.3,362.9 L930.0,365.7 L935.6,368.5 L941.3,371.2 L946.9,373.9 L952.6,376.6 L958.3,379.3 L963.9,381.9 L969.6,384.5 L975.2,387.1 L980.9,389.7 L986.5,392.2 L992.2,394.6 L997.8,397.0 L1003.5,399.4 L1009.1,401.7 L1014.8,403.9 L1020.4,406.1 L1026.1,408.2 L1031.8,410.3 L1037.4,412.2 L1043.1,414.1 L1048.7,415.9 L1054.4,417.5 L1060.0,419.1 L1065.7,420.6 L1071.3,422.0 L1077.0,423.2 L1082.6,424.4 L1088.3,425.4 L1094.0,426.4 L1099.6,427.2 L1105.3,427.9 L1110.9,428.5 L1116.6,429.1 L1122.2,429.5 L1127.9,429.9 L1133.5,430.2 L1139.2,430.4 L1144.8,430.5 L1150.5,430.6 L1156.1,430.6 L1161.8,430.6 L1167.5,430.5 L1173.1,430.4 L1178.8,430.2 L1184.4,430.0 L1190.1,429.8 L1195.7,429.5 L1201.4,429.2 L1207.0,428.8 L1212.7,428.5 L1218.3,428.1 L1224.0,427.7 L1224.0,546.9 L1218.3,544.2 L1212.7,541.4 L1207.0,538.7 L1201.4,536.0 L1195.7,533.4 L1190.1,530.8 L1184.4,528.2 L1178.8,525.6 L1173.1,523.1 L1167.5,520.6 L1161.8,518.2 L1156.1,515.8 L1150.5,513.5 L1144.8,511.2 L1139.2,509.0 L1133.5,506.9 L1127.9,504.8 L1122.2,502.9 L1116.6,501.0 L1110.9,499.1 L1105.3,497.4 L1099.6,495.8 L1094.0,494.3 L1088.3,492.9 L1082.6,491.6 L1077.0,490.4 L1071.3,489.3 L1065.7,488.3 L1060.0,487.5 L1054.4,486.7 L1048.7,486.0 L1043.1,485.5 L1037.4,485.0 L1031.8,484.6 L1026.1,484.3 L1020.4,484.0 L1014.8,483.9 L1009.1,483.8 L1003.5,483.7 L997.8,483.7 L992.2,483.8 L986.5,483.9 L980.9,484.1 L975.2,484.3 L969.6,484.5 L963.9,484.8 L958.3,485.1 L952.6,485.4 L946.9,485.7 L941.3,486.1 L935.6,486.5 L930.0,486.9 L924.3,487.3 L918.7,487.8 L913.0,488.3 L907.4,488.7 L901.7,489.2 L896.1,489.7 L890.4,490.3Z" fill="#b3b3b3" fill-opacity="0.4"/>
<path d="M890.4,418.1 L1224.0,487.3" stroke="#333333" stroke-width="6.8" fill="none" stroke-dasharray="28.3,12.7"/>
</g>
<line x1="790.90" y1="69.80" x2="1317.20" y2="69.80" stroke="#333333" stroke-width="2.6" />
<line x1="790.90" y1="649.40" x2="1317.20" y2="649.40" stroke="#333333" stroke-width="2.6" />
<line x1="791.90" y1="69.80" x2="791.90" y2="649.40" stroke="#333333" stroke-width="2.0" />
<line x1="1316.20" y1="69.80" x2="1316.20" y2="649.40" stroke="#333333" stroke-width="2.0" />
<line x1="781.90" y1="649.80" x2="791.90" y2="649.80" stroke="#333333" stroke-width="3.6" />
<line x1="781.90" y1="538.00" x2="791.90" y2="538.00" stroke="#333333" stroke-width="3.6" />
<line x1="781.90" y1="426.60" x2="791.90" y2="426.60" stroke="#333333" stroke-width="3.6" />
<line x1="781.90" y1="314.30" x2="791.90" y2="314.30" stroke="#333333" stroke-width="3.6" />
<line x1="781.90" y1="202.60" x2="791.90" y2="202.60" stroke="#333333" stroke-width="3.6" />
<line x1="781.90" y1="90.80" x2="791.90" y2="90.80" stroke="#333333" stroke-width="3.6" />
<line x1="877.60" y1="649.40" x2="877.60" y2="659.90" stroke="#333333" stroke-width="3.2" />
<text x="877.6" y="687.0" font-size="29.5" fill="#4d4d4d" text-anchor="middle" letter-spacing="0.6">&#8722;0.5</text>
<line x1="1033.20" y1="649.40" x2="1033.20" y2="659.90" stroke="#333333" stroke-width="3.2" />
<text x="1033.2" y="687.0" font-size="29.5" fill="#4d4d4d" text-anchor="middle" letter-spacing="0.6">0.0</text>
<line x1="1189.20" y1="649.40" x2="1189.20" y2="659.90" stroke="#333333" stroke-width="3.2" />
<text x="1189.2" y="687.0" font-size="29.5" fill="#4d4d4d" text-anchor="middle" letter-spacing="0.6">0.5</text>
<text x="1054.0" y="727.8" font-size="35" fill="#202020" text-anchor="middle" >Elevation (m)</text>
<line x1="596.4" y1="849.2" x2="596.4" y2="1428.9" stroke="#111" stroke-width="2.9" stroke-dasharray="4,9.9" stroke-dashoffset="0"/>
<line x1="586.60" y1="904.60" x2="653.80" y2="904.60" stroke="#333333" stroke-width="4.2" />
<line x1="586.60" y1="899.60" x2="586.60" y2="909.60" stroke="#333333" stroke-width="4.2" />
<line x1="653.80" y1="899.60" x2="653.80" y2="909.60" stroke="#333333" stroke-width="4.2" />
<circle cx="620.3" cy="904.6" r="17.2" fill="#333333"/>
<line x1="228.30" y1="998.30" x2="434.90" y2="998.30" stroke="#333333" stroke-width="4.2" />
<line x1="228.30" y1="993.30" x2="228.30" y2="1003.30" stroke="#333333" stroke-width="4.2" />
<line x1="434.90" y1="993.30" x2="434.90" y2="1003.30" stroke="#333333" stroke-width="4.2" />
<circle cx="331.2" cy="998.3" r="17.2" fill="#333333"/>
<line x1="512.40" y1="1092.20" x2="596.30" y2="1092.20" stroke="#333333" stroke-width="4.2" />
<line x1="512.40" y1="1087.20" x2="512.40" y2="1097.20" stroke="#333333" stroke-width="4.2" />
<line x1="596.30" y1="1087.20" x2="596.30" y2="1097.20" stroke="#333333" stroke-width="4.2" />
<circle cx="553.5" cy="1092.2" r="17.2" fill="#333333"/>
<line x1="527.20" y1="1186.10" x2="619.30" y2="1186.10" stroke="#333333" stroke-width="4.2" />
<line x1="527.20" y1="1181.10" x2="527.20" y2="1191.10" stroke="#333333" stroke-width="4.2" />
<line x1="619.30" y1="1181.10" x2="619.30" y2="1191.10" stroke="#333333" stroke-width="4.2" />
<circle cx="573.5" cy="1186.1" r="17.2" fill="#333333"/>
<line x1="450.00" y1="1280.10" x2="697.70" y2="1280.10" stroke="#333333" stroke-width="4.2" />
<line x1="450.00" y1="1275.10" x2="450.00" y2="1285.10" stroke="#333333" stroke-width="4.2" />
<line x1="697.70" y1="1275.10" x2="697.70" y2="1285.10" stroke="#333333" stroke-width="4.2" />
<circle cx="573.8" cy="1280.1" r="17.2" fill="#333333"/>
<line x1="450.80" y1="1374.10" x2="706.40" y2="1374.10" stroke="#333333" stroke-width="4.2" />
<line x1="450.80" y1="1369.10" x2="450.80" y2="1379.10" stroke="#333333" stroke-width="4.2" />
<line x1="706.40" y1="1369.10" x2="706.40" y2="1379.10" stroke="#333333" stroke-width="4.2" />
<circle cx="578.6" cy="1374.1" r="17.2" fill="#333333"/>
<line x1="204.10" y1="849.20" x2="730.10" y2="849.20" stroke="#333333" stroke-width="2.6" />
<line x1="204.10" y1="1428.90" x2="730.10" y2="1428.90" stroke="#333333" stroke-width="2.6" />
<line x1="205.10" y1="849.20" x2="205.10" y2="1428.90" stroke="#333333" stroke-width="2.0" />
<line x1="729.10" y1="849.20" x2="729.10" y2="1428.90" stroke="#333333" stroke-width="2.0" />
<line x1="195.10" y1="904.60" x2="205.10" y2="904.60" stroke="#333333" stroke-width="3.6" />
<text x="189.6" y="914.9" font-size="29.5" fill="#4d4d4d" text-anchor="end" >Season</text>
<line x1="195.10" y1="998.30" x2="205.10" y2="998.30" stroke="#333333" stroke-width="3.6" />
<text x="189.6" y="1008.6" font-size="29.5" fill="#4d4d4d" text-anchor="end" >Elevation</text>
<line x1="195.10" y1="1092.20" x2="205.10" y2="1092.20" stroke="#333333" stroke-width="3.6" />
<text x="189.6" y="1102.5" font-size="29.5" fill="#4d4d4d" text-anchor="end" >Ground</text>
<line x1="195.10" y1="1186.10" x2="205.10" y2="1186.10" stroke="#333333" stroke-width="3.6" />
<text x="189.6" y="1196.4" font-size="29.5" fill="#4d4d4d" text-anchor="end" >Off&#8722;bottom</text>
<line x1="195.10" y1="1280.10" x2="205.10" y2="1280.10" stroke="#333333" stroke-width="3.6" />
<text x="189.6" y="1290.4" font-size="29.5" fill="#4d4d4d" text-anchor="end" >Gr x El</text>
<line x1="195.10" y1="1374.10" x2="205.10" y2="1374.10" stroke="#333333" stroke-width="3.6" />
<text x="189.6" y="1384.4" font-size="29.5" fill="#4d4d4d" text-anchor="end" >O&#8722;b x El</text>
<line x1="277.10" y1="1428.90" x2="277.10" y2="1439.40" stroke="#333333" stroke-width="3.2" />
<text x="277.1" y="1466.6" font-size="29.5" fill="#4d4d4d" text-anchor="middle" letter-spacing="0.6">0.1</text>
<line x1="428.60" y1="1428.90" x2="428.60" y2="1439.40" stroke="#333333" stroke-width="3.2" />
<text x="428.6" y="1466.6" font-size="29.5" fill="#4d4d4d" text-anchor="middle" letter-spacing="0.6">0.3</text>
<line x1="596.40" y1="1428.90" x2="596.40" y2="1439.40" stroke="#333333" stroke-width="3.2" />
<text x="596.4" y="1466.6" font-size="29.5" fill="#4d4d4d" text-anchor="middle" letter-spacing="0.6">1.0</text>
<line x1="1198.6" y1="849.2" x2="1198.6" y2="1428.7" stroke="#111" stroke-width="2.9" stroke-dasharray="4,9.9" stroke-dashoffset="0"/>
<line x1="1148.60" y1="904.60" x2="1217.20" y2="904.60" stroke="#333333" stroke-width="4.2" />
<line x1="1148.60" y1="899.60" x2="1148.60" y2="909.60" stroke="#333333" stroke-width="4.2" />
<line x1="1217.20" y1="899.60" x2="1217.20" y2="909.60" stroke="#333333" stroke-width="4.2" />
<circle cx="1183.4" cy="904.6" r="17.2" fill="#333333"/>
<line x1="814.50" y1="998.30" x2="1008.60" y2="998.30" stroke="#333333" stroke-width="4.2" />
<line x1="814.50" y1="993.30" x2="814.50" y2="1003.30" stroke="#333333" stroke-width="4.2" />
<line x1="1008.60" y1="993.30" x2="1008.60" y2="1003.30" stroke="#333333" stroke-width="4.2" />
<circle cx="911.9" cy="998.3" r="17.2" fill="#333333"/>
<line x1="1097.60" y1="1092.20" x2="1182.70" y2="1092.20" stroke="#333333" stroke-width="4.2" />
<line x1="1097.60" y1="1087.20" x2="1097.60" y2="1097.20" stroke="#333333" stroke-width="4.2" />
<line x1="1182.70" y1="1087.20" x2="1182.70" y2="1097.20" stroke="#333333" stroke-width="4.2" />
<circle cx="1139.8" cy="1092.2" r="17.2" fill="#333333"/>
<line x1="1116.10" y1="1186.10" x2="1207.00" y2="1186.10" stroke="#333333" stroke-width="4.2" />
<line x1="1116.10" y1="1181.10" x2="1116.10" y2="1191.10" stroke="#333333" stroke-width="4.2" />
<line x1="1207.00" y1="1181.10" x2="1207.00" y2="1191.10" stroke="#333333" stroke-width="4.2" />
<circle cx="1161.2" cy="1186.1" r="17.2" fill="#333333"/>
<line x1="1005.00" y1="1280.10" x2="1245.10" y2="1280.10" stroke="#333333" stroke-width="4.2" />
<line x1="1005.00" y1="1275.10" x2="1005.00" y2="1285.10" stroke="#333333" stroke-width="4.2" />
<line x1="1245.10" y1="1275.10" x2="1245.10" y2="1285.10" stroke="#333333" stroke-width="4.2" />
<circle cx="1125.0" cy="1280.1" r="17.2" fill="#333333"/>
<line x1="1045.50" y1="1374.10" x2="1294.20" y2="1374.10" stroke="#333333" stroke-width="4.2" />
<line x1="1045.50" y1="1369.10" x2="1045.50" y2="1379.10" stroke="#333333" stroke-width="4.2" />
<line x1="1294.20" y1="1369.10" x2="1294.20" y2="1379.10" stroke="#333333" stroke-width="4.2" />
<circle cx="1169.5" cy="1374.1" r="17.2" fill="#333333"/>
<line x1="790.90" y1="849.20" x2="1317.80" y2="849.20" stroke="#333333" stroke-width="2.6" />
<line x1="790.90" y1="1428.70" x2="1317.80" y2="1428.70" stroke="#333333" stroke-width="2.6" />
<line x1="791.90" y1="849.20" x2="791.90" y2="1428.70" stroke="#333333" stroke-width="2.0" />
<line x1="1316.80" y1="849.20" x2="1316.80" y2="1428.70" stroke="#333333" stroke-width="2.0" />
<line x1="781.90" y1="904.60" x2="791.90" y2="904.60" stroke="#333333" stroke-width="3.6" />
<line x1="781.90" y1="998.30" x2="791.90" y2="998.30" stroke="#333333" stroke-width="3.6" />
<line x1="781.90" y1="1092.20" x2="791.90" y2="1092.20" stroke="#333333" stroke-width="3.6" />
<line x1="781.90" y1="1186.10" x2="791.90" y2="1186.10" stroke="#333333" stroke-width="3.6" />
<line x1="781.90" y1="1280.10" x2="791.90" y2="1280.10" stroke="#333333" stroke-width="3.6" />
<line x1="781.90" y1="1374.10" x2="791.90" y2="1374.10" stroke="#333333" stroke-width="3.6" />
<line x1="819.20" y1="1428.70" x2="819.20" y2="1439.20" stroke="#333333" stroke-width="3.2" />
<text x="819.2" y="1466.6" font-size="29.5" fill="#4d4d4d" text-anchor="middle" letter-spacing="0.6">0.03</text>
<line x1="950.50" y1="1428.70" x2="950.50" y2="1439.20" stroke="#333333" stroke-width="3.2" />
<text x="950.5" y="1466.6" font-size="29.5" fill="#4d4d4d" text-anchor="middle" letter-spacing="0.6">0.10</text>
<line x1="1068.60" y1="1428.70" x2="1068.60" y2="1439.20" stroke="#333333" stroke-width="3.2" />
<text x="1068.6" y="1466.6" font-size="29.5" fill="#4d4d4d" text-anchor="middle" letter-spacing="0.6">0.30</text>
<line x1="1198.60" y1="1428.70" x2="1198.60" y2="1439.20" stroke="#333333" stroke-width="3.2" />
<text x="1198.6" y="1466.6" font-size="29.5" fill="#4d4d4d" text-anchor="middle" letter-spacing="0.6">1.00</text>
<text x="203.5" y="31.8" font-size="42.5" fill="#202020" text-anchor="start" >A) Spring</text>
<text x="790.0" y="33.2" font-size="42.5" fill="#202020" text-anchor="start" >B) Summer</text>
<text x="204.0" y="807.8" font-size="42.5" fill="#202020" text-anchor="start" >C) Cover</text>
<text x="790.5" y="812.1" font-size="42" fill="#202020">D) Density 0.25 m<tspan font-size="27.5" dx="-1" dy="-19.5">&#8722;2</tspan></text>
<text x="776.8" y="1559.0" font-size="45.5" fill="#202020" text-anchor="middle" >Effect size</text>
<text transform="translate(27.4,358.6) rotate(-90)" font-size="35" fill="#202020" text-anchor="middle">Percent cover</text>
<text x="1368.8" y="280.3" font-size="35" fill="#202020" text-anchor="start" >Culture</text>
<rect x="1369.2" y="301.4" width="56.5" height="167.6" fill="#b3b3b3" fill-opacity="0.4"/>
<path d="M1375.5,329.8 L1421,329.8" stroke="#333333" stroke-width="7.4" fill="none"/>
<circle cx="1397.8" cy="329.8" r="6.3" fill="#333333"/>
<text x="1443.6" y="339.1" font-size="29" fill="#202020" text-anchor="start" >none</text>
<path d="M1375.5,385.3 L1421,385.3" stroke="#333333" stroke-width="7.4" fill="none" stroke-dasharray="14.6,12.8"/>
<circle cx="1397.3" cy="385.3" r="5.4" fill="#e0e0e0" stroke="#333" stroke-width="1.9"/>
<text x="1443.6" y="394.6" font-size="29" fill="#202020" text-anchor="start" >ground</text>
<path d="M1375.5,440.5 L1421,440.5" stroke="#333333" stroke-width="7.4" fill="none" stroke-dasharray="28.3,12.7"/>
<path d="M1398.3,431.5 L1406.6,446.5 L1390.0,446.5Z" fill="none" stroke="#333" stroke-width="2"/>
<text x="1443.6" y="449.8" font-size="29" fill="#202020" text-anchor="start" >off</text>
</svg></body></html>
